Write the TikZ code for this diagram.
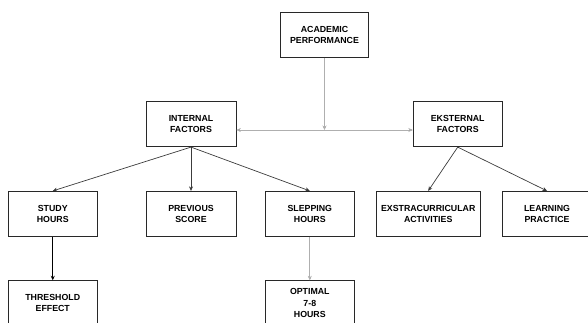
\documentclass[tikz,border=0pt]{standalone}
\usepackage{fontspec}
\setmainfont{Liberation Sans}
\usetikzlibrary{arrows.meta}
\tikzset{every picture/.style={line width=0.75pt}}
\tikzset{
  factorbox/.style={draw={rgb,255:red,40;green,40;blue,40}, line width=0.8pt, minimum width=89pt, minimum height=45pt, align=center, inner sep=1pt, font=\bfseries\fontsize{8.8}{11.3}\selectfont},
  greyline/.style={draw={rgb,255:red,175;green,175;blue,175}, line width=0.8pt, -{Stealth[length=4.5pt,width=4pt,fill=black]}},
  darkline/.style={draw={rgb,255:red,60;green,60;blue,60}, line width=0.7pt, -{Stealth[length=4.5pt,width=4pt,fill=black]}}
}

\begin{document}
\begin{tikzpicture}[x=1pt,y=1pt,yscale=-1,xscale=1]
	%set diagram to 588 x 322
	\useasboundingbox (0,0) rectangle (588,322);
	\clip (0,0) rectangle (588,322);

	%Shape: Rectangle [id:academic]
	\node [factorbox, minimum width=88pt] (acad) at (324.5,35) {ACADEMIC\\PERFORMANCE};
	%Shape: Rectangle [id:internal]
	\node [factorbox, minimum width=90pt] (intern) at (191,124.2) {INTERNAL\\FACTORS};
	%Shape: Rectangle [id:eksternal]
	\node [factorbox] (ekstern) at (457.7,124.2) {EKSTERNAL\\FACTORS};
	%Shape: Rectangle [id:study]
	\node [factorbox] (study) at (52.75,213.8) {STUDY\\HOURS};
	%Shape: Rectangle [id:previous]
	\node [factorbox, minimum width=90pt] (prev) at (191,213.8) {PREVIOUS\\SCORE};
	%Shape: Rectangle [id:sleeping]
	\node [factorbox, minimum width=88.5pt] (sleep) at (309.8,213.8) {SLEPPING\\HOURS};
	%Shape: Rectangle [id:extra]
	\node [factorbox, minimum width=103.5pt] (extra) at (428.2,213.8) {EXSTRACURRICULAR\\ACTIVITIES};
	%Shape: Rectangle [id:learning]
	\node [factorbox] (learn) at (547,213.8) {LEARNING\\PRACTICE};
	%Shape: Rectangle [id:threshold]
	\node [factorbox] (thresh) at (52.75,303.2) {THRESHOLD\\EFFECT};
	%Shape: Rectangle [id:optimal]
	\node [factorbox, minimum width=88.5pt] (optim) at (309.8,303.2) {OPTIMAL\\7-8\\HOURS};

	%Straight Lines [id:split]
	\coordinate (split) at (324.5,130);
	\draw [greyline] (acad.south) -- (split);
	\draw [greyline] (split) -- (intern.east |- split);
	\draw [greyline] (split) -- (ekstern.west |- split);
	%Straight Lines [id:internal children]
	\draw [darkline] (intern.south) -- (study.north);
	\draw [darkline] (intern.south) -- (prev.north);
	\draw [darkline] (intern.south) -- (sleep.north);
	%Straight Lines [id:eksternal children]
	\draw [darkline] (ekstern.south) -- (extra.north);
	\draw [darkline] (ekstern.south) -- (learn.north);
	%Straight Lines [id:third row]
	\draw [darkline, draw=black] (study.south) -- (thresh.north);
	\draw [greyline] (sleep.south) -- (optim.north);

\end{tikzpicture}
\end{document}
